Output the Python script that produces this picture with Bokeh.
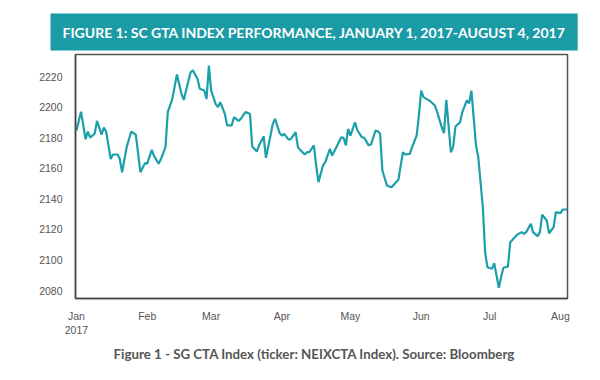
import pandas as pd
from bokeh.plotting import figure
from bokeh.models import FixedTicker, Range1d, Title
from bokeh.embed import file_html
from bokeh.resources import INLINE

# ---------------- data ----------------
start_date = "2017-01-01"
days_since_start = [0, 2, 4, 5, 6, 8, 9, 11, 12, 13,
                    15, 16, 18, 19, 20, 22, 24, 26, 28, 30,
                    31, 33, 34, 36, 37, 39, 40, 42, 44, 46,
                    47, 48, 50, 51, 53, 54, 56, 57, 58, 59,
                    61, 62, 63, 65, 66, 68, 69, 71, 72, 74,
                    76, 77, 79, 80, 82, 83, 85, 86, 87, 89,
                    90, 91, 93, 94, 96, 97, 98, 100, 101, 102,
                    104, 105, 106, 108, 109, 111, 112, 114, 116, 117,
                    118, 119, 120, 122, 123, 125, 126, 128, 129, 131,
                    132, 133, 134, 136, 137, 138, 140, 141, 143, 144,
                    146, 147, 149, 150, 151, 152, 154, 155, 157, 158,
                    160, 161, 162, 164, 165, 166, 168, 169, 171, 172,
                    173, 175, 176, 178, 179, 180, 182, 183, 185, 186,
                    187, 189, 190, 192, 193, 195, 196, 197, 199, 200,
                    202, 203, 204, 206, 207, 209, 210, 212, 213, 215]
index_values = [2184.7, 2197, 2179, 2184, 2180, 2182.7, 2191, 2182, 2186.6, 2184,
                2166, 2169, 2169, 2166, 2157.4, 2173.8, 2184, 2182, 2157.4, 2163.3,
                2163, 2172, 2168, 2163, 2166, 2173.8, 2196.7, 2205.4, 2221.3, 2208.7,
                2204.7, 2210.8, 2222.8, 2224, 2218.5, 2212, 2210.8, 2205.4, 2227.2, 2210.8,
                2202, 2200, 2203.2, 2195.6, 2188, 2188, 2193.4, 2191, 2192.3, 2196.7,
                2195.6, 2174.2, 2171, 2175, 2180.8, 2166.8, 2181.4, 2189, 2192.3, 2183,
                2181.4, 2182.5, 2178.6, 2179.3, 2183.6, 2173.8, 2172, 2169, 2170.5, 2170.5,
                2175, 2161.8, 2150.9, 2161.8, 2164, 2172.7, 2168.3, 2174.2, 2180.3, 2179.9,
                2175, 2185.8, 2181.4, 2190, 2185, 2180.3, 2180, 2175, 2175.5, 2184.7,
                2184.2, 2182.5, 2158.5, 2148.7, 2148, 2147.6, 2150.9, 2152.4, 2170.5, 2169,
                2169.4, 2173.8, 2181.4, 2194.5, 2210.8, 2206.5, 2204.7, 2203.8, 2201, 2196.7,
                2186.8, 2183, 2204.7, 2170.5, 2173.8, 2187.3, 2190, 2196.7, 2204.3, 2202.5,
                2210.8, 2175, 2167.2, 2134.5, 2105, 2095.3, 2094.2, 2097.9, 2081.8, 2088.7,
                2094.9, 2095.7, 2111.6, 2114.9, 2116.5, 2118.2, 2117.1, 2118.2, 2123.7, 2118.2,
                2115.6, 2118.2, 2129.6, 2125.8, 2117.5, 2121.4, 2131.3, 2130.6, 2133, 2133]
month_ticks = ["2017-01-01", "2017-02-01", "2017-03-01", "2017-04-01",
               "2017-05-01", "2017-06-01", "2017-07-01", "2017-08-01"]
month_labels = ["Jan\n2017", "Feb", "Mar", "Apr", "May", "Jun", "Jul", "Aug"]
y_ticks = [2080, 2100, 2120, 2140, 2160, 2180, 2200, 2220]

banner_text = "FIGURE 1: SC GTA INDEX PERFORMANCE, JANUARY 1, 2017-AUGUST 4, 2017"
caption_text = "Figure 1 - SG CTA Index (ticker: NEIXCTA Index). Source: Bloomberg"

TEAL = "#1a9ba5"
LINE = "#1b9fa8"

dates = pd.Timestamp(start_date) + pd.to_timedelta(days_since_start, unit="D")


def ms(ts):
    return pd.Timestamp(ts).value / 1e6


x0 = ms(pd.Timestamp(start_date) - pd.Timedelta(hours=10))
x1 = ms(pd.Timestamp(start_date) + pd.Timedelta(days=215, hours=2))
p = figure(width=584, height=372, output_backend="svg", toolbar_location=None,
           x_axis_type="datetime", x_range=Range1d(x0, x1),
           y_range=Range1d(2074.8, 2234.4),
           min_border_left=75, min_border_right=17, min_border_top=54,
           min_border_bottom=74)
p.grid.visible = False
p.outline_line_color = "#555555"
p.outline_line_width = 1.5
p.background_fill_color = "white"
p.border_fill_color = "white"

p.line(dates, index_values, line_color=LINE, line_width=2.2)

tick_ms = [ms(t) for t in month_ticks]
p.xaxis.ticker = FixedTicker(ticks=tick_ms)
p.xaxis.major_label_overrides = {t: l for t, l in zip(tick_ms, month_labels)}
p.yaxis.ticker = FixedTicker(ticks=y_ticks)
for ax in (p.xaxis, p.yaxis):
    ax.axis_line_color = "#444444"
    ax.axis_line_width = 1.5
    ax.major_tick_line_color = None
    ax.minor_tick_line_color = None
    ax.major_label_text_font = "Liberation Sans"
    ax.major_label_text_font_size = "10.5px"
    ax.major_label_text_color = "#555555"
p.xaxis.major_label_standoff = 5
p.yaxis.major_label_standoff = 7

# ---------------- banner (title above) ----------------
p.title.text = banner_text
p.title.text_color = "white"
p.title.text_font = "Lato"
p.title.text_font_style = "bold"
p.title.text_font_size = "14px"
p.title.background_fill_color = TEAL
p.title.align = "left"
p.title.offset = -25
p.title.standoff = 8
p.title.padding = dict(left=12, right=11, top=10, bottom=10)

# ---------------- caption (title below) ----------------
cap = Title(text=caption_text, text_color="#555555", text_font="Lato",
            text_font_style="bold", text_font_size="13.3px", align="left",
            offset=38, standoff=11)
p.add_layout(cap, "below")

open("out.html", "w").write(file_html(p, INLINE))
